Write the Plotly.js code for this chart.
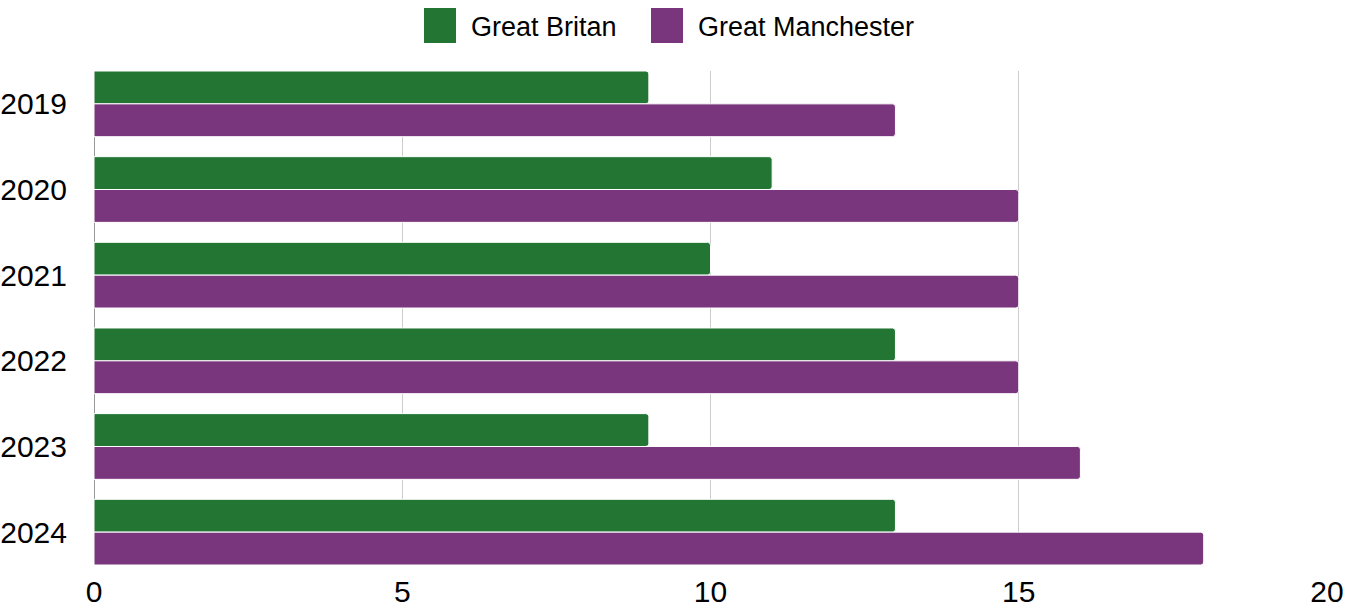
<!DOCTYPE html>
<html>
<head>
<meta charset="utf-8">
<script src="https://cdn.plot.ly/plotly-3.0.1.min.js"></script>
<style>
html,body{margin:0;padding:0;background:#fff;}
#chart{width:1346px;height:610px;}
</style>
</head>
<body>
<div id="chart"></div>
<script>
const years = ['2019', '2020', '2021', '2022', '2023', '2024'];
const seriesNames = ['Great Britan', 'Great Manchester'];
const greatBritain = [9, 11, 10, 13, 9, 13];
const greatManchester = [13, 15, 15, 15, 16, 18];
const colors = ['#227532', '#7a367d'];
const xTicks = [0, 5, 10, 15, 20];

const FONT = 'Liberation Sans, Arial, sans-serif';

const traces = [greatBritain, greatManchester].map((vals, i) => ({
  type: 'bar',
  orientation: 'h',
  name: seriesNames[i],
  y: years,
  x: vals,
  marker: {color: colors[i], line: {color: '#ffffff', width: 1}, cornerradius: 3},
  hoverinfo: 'x+y+name'
}));

const gap = 0.233;
const half = (1 - gap) / 2;

// legend drawn as shapes + annotations in paper coordinates
const L = 94, R = 1327, T = 71, B = 565;
const px = v => (v - L) / (R - L);
const py = v => (B - v) / (B - T);
const legendShapes = [];
const legendAnn = [];
const legendItems = [
  {sq: [424, 456], tx: 469},
  {sq: [651, 683], tx: 696}
];
legendItems.forEach((it, i) => {
  legendShapes.push({
    type: 'rect', xref: 'paper', yref: 'paper',
    x0: px(it.sq[0]), x1: px(it.sq[1]), y0: py(43), y1: py(8),
    fillcolor: colors[i], line: {width: 0}
  });
  legendAnn.push({
    xref: 'paper', yref: 'paper', x: px(it.tx), y: py(27),
    xanchor: 'left', yanchor: 'middle', showarrow: false,
    text: seriesNames[i], font: {family: FONT, size: 27, color: '#000'}
  });
});

const layout = {
  width: 1346, height: 610,
  margin: {l: L, r: 1346 - R, t: T, b: 610 - B, pad: 0},
  paper_bgcolor: '#ffffff', plot_bgcolor: '#ffffff',
  barmode: 'group', bargap: gap, bargroupgap: 0,
  showlegend: false,
  font: {family: FONT, size: 30, color: '#000'},
  xaxis: {
    range: [0, 20], tickvals: xTicks, ticktext: xTicks.map(String),
    showgrid: true, gridcolor: '#cccccc', gridwidth: 1,
    zeroline: true, zerolinecolor: '#999999', zerolinewidth: 1,
    showline: false, ticks: '', ticklabelstandoff: 6,
    tickfont: {family: FONT, size: 30, color: '#000'}
  },
  yaxis: {
    type: 'category', categoryorder: 'array', categoryarray: years,
    range: [years.length - 1 + half, -half],
    showgrid: false, zeroline: false, showline: false, ticks: '',
    ticklabelstandoff: 26,
    tickfont: {family: FONT, size: 30, color: '#000'}
  },
  shapes: legendShapes,
  annotations: legendAnn
};

Plotly.newPlot('chart', traces, layout, {displayModeBar: false, staticPlot: true});
</script>
</body>
</html>
